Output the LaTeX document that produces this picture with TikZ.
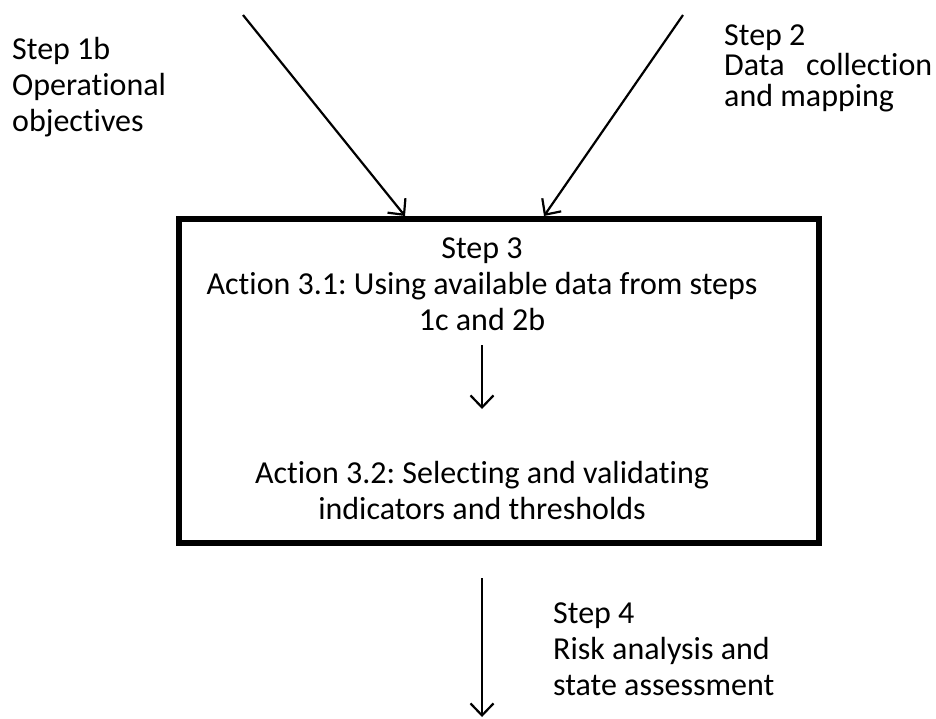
\documentclass[tikz,border=0pt]{standalone}
\usepackage{fontspec}
\setmainfont{Carlito}[Ligatures={NoCommon}]
\usetikzlibrary{arrows.meta}
\frenchspacing
\begin{document}
\begin{tikzpicture}[x=1pt,y=-1pt,
  conn/.style={line width=2.2pt,-{Straight Barb[length=12pt,width=23pt,line width=2.2pt]}},
  txt/.style={font=\fontsize{32}{36}\selectfont,inner sep=0pt},
  lbl/.style={txt,anchor=base west},
  mid/.style={txt,anchor=base},
  stepbox/.style={draw,line width=5.5pt,inner sep=0pt}]
\useasboundingbox (0,0) rectangle (936,718);

% main step box
\node[stepbox,minimum width=640pt,minimum height=324pt] (box) at (499,381) {};

% texts inside the box
\node[mid] (s3)  at (482,258) {Step 3};
\node[mid] (a31) at (482,294) {Action 3.1: Using available data from steps};
\node[mid] (a31b) at (482,330) {1c and 2b};
\node[mid] (a32) at (482,483) {Action 3.2: Selecting and validating};
\node[mid] (a32b) at (482,519) {indicators and thresholds};

% side labels
\node[lbl] (s1b)  at (12,59)  {Step 1b};
\node[lbl] (s1bb) at (12,95)  {Operational};
\node[lbl] (s1bc) at (12,131) {objectives};

\node[lbl] (s2)  at (724,45)  {Step 2};
\node[lbl] (s2b) at (724,75)  {\makebox[208pt][s]{Data collection}};
\node[lbl] (s2c) at (724,106) {and mapping};

\node[lbl] (s4)  at (553,623) {Step 4};
\node[lbl] (s4b) at (553,659) {Risk analysis and};
\node[lbl] (s4c) at (553,695) {state assessment};

% connector end points
\coordinate (in1) at (243,15);
\coordinate (tip1) at (405,216);
\coordinate (in2) at (683,15);
\coordinate (tip2) at (544,216);
\coordinate (m1) at (482,345);
\coordinate (m2) at (482,409);
\coordinate (o1) at (482,578);
\coordinate (o2) at (482,717);

\draw[conn] (in1) -- (tip1);
\draw[conn] (in2) -- (tip2);
\draw[conn] (m1) -- (m2);
\draw[conn] (o1) -- (o2);
\end{tikzpicture}
\end{document}
